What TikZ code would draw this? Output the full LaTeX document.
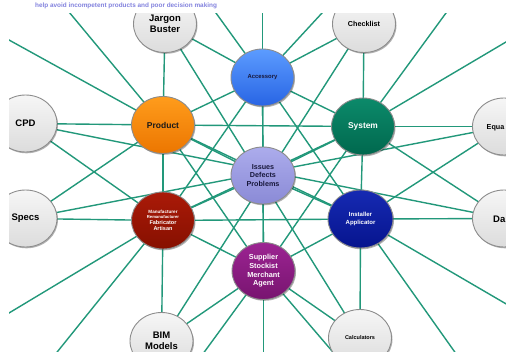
\documentclass[tikz,border=0pt]{standalone}
\usepackage{fontspec}
\setmainfont{Liberation Sans}
\usetikzlibrary{shapes.geometric,shadows}
\definecolor{edgec}{RGB}{34,152,122}
\definecolor{headc}{RGB}{130,130,222}
\definecolor{accT}{RGB}{92,156,255}\definecolor{accB}{RGB}{40,100,228}
\definecolor{proT}{RGB}{255,156,28}\definecolor{proB}{RGB}{236,118,0}
\definecolor{sysT}{RGB}{12,138,106}\definecolor{sysB}{RGB}{0,104,78}
\definecolor{issT}{RGB}{172,172,236}\definecolor{issB}{RGB}{138,138,214}
\definecolor{manT}{RGB}{170,26,8}\definecolor{manB}{RGB}{134,16,0}
\definecolor{insT}{RGB}{22,42,178}\definecolor{insB}{RGB}{6,20,142}
\definecolor{supT}{RGB}{156,36,146}\definecolor{supB}{RGB}{120,20,112}
\definecolor{outT}{RGB}{246,246,246}\definecolor{outB}{RGB}{220,220,220}
\definecolor{navy}{RGB}{24,24,60}
\pgfdeclarelayer{bg}
\pgfsetlayers{bg,main}
\begin{document}
\begin{tikzpicture}[x=1pt,y=-1pt,
  link/.style={draw=edgec,line width=1.4pt},
  bub/.style={ellipse,minimum width=63pt,minimum height=57pt,inner sep=0pt,
    draw=black!45,line width=0.9pt,align=center,
    drop shadow={shadow xshift=1pt,shadow yshift=-1.3pt,opacity=0.3,fill=black}},
  outer/.style={bub,top color=outT,bottom color=outB,text=black},
  big/.style={font=\bfseries\fontsize{9.5}{11.5}\selectfont},
  headtxt/.style={font=\bfseries\fontsize{6.4}{7}\selectfont,text=headc,inner sep=0pt,anchor=base west}]
\useasboundingbox (0,0) rectangle (506,351);

\node[headtxt] (head) at (35,7) {help avoid incompetent products and poor decision making};

\begin{scope}
\clip (9,13) rectangle (506,351);
% inner nodes
\node[bub,top color=issT,bottom color=issB,text=navy,minimum width=64pt,
  font=\bfseries\fontsize{7.2}{8.7}\selectfont] (H) at (263,175.5) {Issues\\Defects\\Problems};
\node[bub,top color=accT,bottom color=accB,text=navy,
  font=\bfseries\fontsize{5.9}{7}\selectfont] (A) at (262.5,77.5) {Accessory};
\node[bub,top color=proT,bottom color=proB,text=black!90,
  font=\bfseries\fontsize{8.5}{10}\selectfont] (P) at (163,125) {Product};
\node[bub,top color=sysT,bottom color=sysB,text=white,
  font=\bfseries\fontsize{8.4}{10}\selectfont] (Sy) at (363,126.5) {System};
\node[bub,top color=manT,bottom color=manB,text=white,
  font=\bfseries\fontsize{5.5}{6.2}\selectfont] (M) at (163,220.5)
  {{\fontsize{4.6}{5}\selectfont Manufacturer}\\[-1.2pt]{\fontsize{4.2}{5}\selectfont Remanufacturer}\\Fabricator\\Artisan};
\node[bub,top color=insT,bottom color=insB,text=white,minimum width=65pt,minimum height=58pt,
  font=\bfseries\fontsize{6}{8}\selectfont] (I) at (360.5,219) {Installer\\Applicator};
\node[bub,top color=supT,bottom color=supB,text=white,
  font=\bfseries\fontsize{7.3}{8.7}\selectfont] (S) at (263.5,271) {Supplier\\Stockist\\Merchant\\Agent};
% outer nodes
\node[outer,big] (JB) at (165,24) {Jargon\\Buster};
\node[outer,font=\bfseries\fontsize{7.2}{8}\selectfont] (CL) at (364,24) {Checklist};
\node[outer,big] (CPD) at (25.5,123.5) {CPD};
\node[outer,big] (Specs) at (25.5,218.5) {Specs};
\node[outer] (Equa) at (504,126.5) {};
\node[outer] (Da) at (504,218.5) {};
\node[outer,big] (BIM) at (161.5,341) {BIM\\Models};
\node[outer,font=\bfseries\fontsize{5.5}{6}\selectfont] (Calc) at (360,338) {Calculators};
\node[font=\bfseries\fontsize{7.2}{8}\selectfont,anchor=west,inner sep=0pt] (EquaTxt) at (486.5,127.5) {Equa};
\node[big,anchor=west,inner sep=0pt] (DaTxt) at (493,219.5) {Da};
% free ends of the connectors that leave the frame
\coordinate (e1) at (-10,29.5);
\coordinate (e2) at (59,0);
\coordinate (e3) at (206.6,0);
\coordinate (e4) at (262.5,0);
\coordinate (e5) at (334,0);
\coordinate (e6) at (455.5,0);
\coordinate (e7) at (520,33.7);
\coordinate (e8) at (520,312);
\coordinate (e9) at (464,365);
\coordinate (e10) at (344,365);
\coordinate (e11) at (263.5,365);
\coordinate (e12) at (194.8,365);
\coordinate (e13) at (46.7,365);
\coordinate (e14) at (-10,324.4);
\end{scope}

\begin{pgfonlayer}{bg}
\fill[white] (0,0) rectangle (506,351);
\begin{scope}
\clip (9,13) rectangle (506,351);
\foreach \a/\b in {H/A,H/S,H/P,H/Sy,H/M,H/I,
  A/Sy,A/I,A/S,A/M,A/P,Sy/I,Sy/S,Sy/M,Sy/P,I/S,I/M,I/P,S/M,S/P,M/P,
  JB/P,JB/A,JB/Calc,CL/Sy,CL/A,CL/BIM,CPD/P,CPD/M,CPD/Da,
  Specs/P,Specs/M,Specs/Equa,Equa/Sy,Equa/I,Da/Sy,Da/I,BIM/M,BIM/S,Calc/I,Calc/S,
  P/e1,P/e2,A/e3,A/e4,A/e5,Sy/e6,Sy/e7,I/e8,I/e9,S/e10,S/e11,S/e12,M/e13,M/e14}
  \draw[link] (\a.center) -- (\b.center);
\end{scope}
\end{pgfonlayer}
\end{tikzpicture}
\end{document}
